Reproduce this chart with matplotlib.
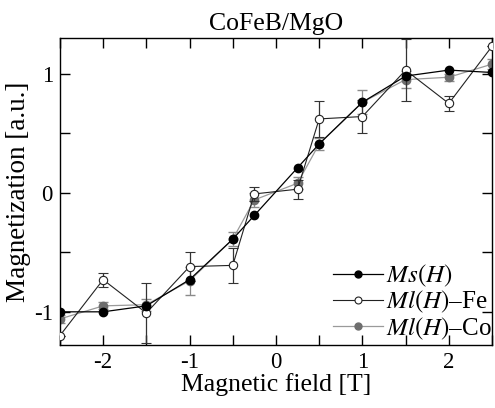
import matplotlib
matplotlib.use("Agg")
import matplotlib.pyplot as plt
from matplotlib.lines import Line2D
import numpy as np

plt.rcParams['font.family'] = ['Liberation Serif', 'DejaVu Serif']
plt.rcParams['mathtext.fontset'] = 'stix'

field = [-2.5, -2, -1.5, -1, -0.5, -0.25, 0.25, 0.5, 1, 1.5, 2, 2.5]
ms = [-1.0, -1.0, -0.95, -0.73, -0.39, -0.19, 0.21, 0.41, 0.76, 0.98, 1.03, 1.01]
ml_fe = [-1.2, -0.73, -1.01, -0.62, -0.61, -0.01, 0.03, 0.62, 0.64, 1.03, 0.75, 1.23]
ml_fe_err = [0.0, 0.06, 0.25, 0.12, 0.15, 0.06, 0.08, 0.15, 0.14, 0.26, 0.06, 0.0]
ml_co = [-1.06, -0.95, -0.94, -0.74, -0.39, -0.06, 0.08, 0.41, 0.76, 0.95, 0.97, 1.08]
ml_co_err = [0.03, 0.03, 0.05, 0.12, 0.06, 0.06, 0.05, 0.05, 0.1, 0.07, 0.03, 0.04]
xticks = [-2, -1, 0, 1, 2]
yticks = [-1, 0, 1]
labels = [r'$\mathit{Ms(H)}$', r'$\mathit{Ml(H)}$–Fe', r'$\mathit{Ml(H)}$–Co']

fig = plt.figure(figsize=(4.95, 4.08), dpi=100)
ax = fig.add_axes([0.121, 0.154, 0.873, 0.753])

co_mc = '#6e6e6e'
co_lc = '#9a9a9a'
ax.errorbar(field, ml_co, yerr=ml_co_err, color=co_lc, ecolor='#8a8a8a', lw=0.9,
            elinewidth=0.9, capsize=3.3, marker='o', ms=6, mfc=co_mc, mec=co_mc,
            zorder=2)
ax.errorbar(field, ml_fe, yerr=ml_fe_err, color='#222222', ecolor='#333333', lw=0.8,
            elinewidth=0.9, capsize=3.3, marker='o', ms=6, mfc='white', mec='#222222',
            mew=0.8, zorder=3)
ax.plot(field, ms, color='black', lw=0.9, marker='o', ms=6, mfc='black', mec='black',
        zorder=4)

ax.set_xlim(-2.5, 2.5)
ax.set_ylim(-1.28, 1.3)
ax.set_xticks(xticks)
ax.set_xticklabels([str(t) for t in xticks])
ax.set_yticks(yticks)
ax.set_yticklabels([str(t) for t in yticks])
ax.set_xticks(np.arange(-2.5, 2.51, 0.5), minor=True)
ax.set_yticks([-0.5, 0.5], minor=True)
ax.tick_params(which='both', direction='in', top=True, right=True, length=7, width=1,
               labelsize=16.5, pad=5)
for s in ax.spines.values():
    s.set_linewidth(1.0)

ax.set_xlabel('Magnetic field [T]', fontsize=18.5, labelpad=0)
ax.set_ylabel('Magnetization [a.u.]', fontsize=19.5, labelpad=2)
ax.set_title('CoFeB/MgO', fontsize=18.5, pad=6)

handles = [
    Line2D([], [], color='black', lw=0.9, marker='o', ms=5, mfc='black', mec='black'),
    Line2D([], [], color='#222222', lw=0.8, marker='o', ms=5, mfc='white', mec='#222222', mew=0.8),
    Line2D([], [], color=co_lc, lw=0.9, marker='o', ms=5, mfc=co_mc, mec=co_mc),
]
leg = ax.legend(handles, labels, loc='center left',
                bbox_to_anchor=(0.632, 0.14), frameon=False, fontsize=18,
                handlelength=2.0, handletextpad=0.1, labelspacing=0.0,
                borderaxespad=0, borderpad=0)
leg.set_clip_on(False)

fig.savefig('out.png', dpi=100)
